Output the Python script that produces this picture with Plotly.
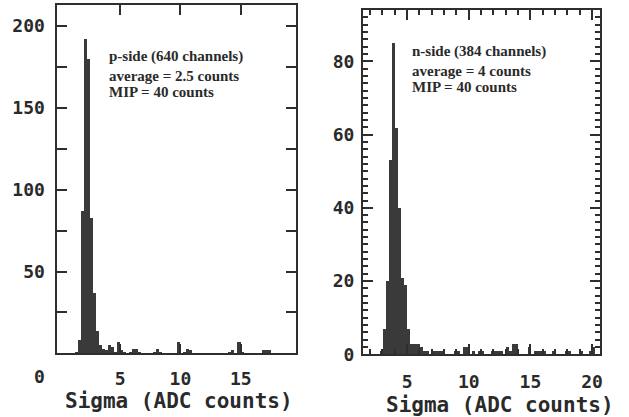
import plotly.graph_objects as go

# ---------------- data ----------------
BIN = 0.25
# p-side histogram: lower bin edges (Sigma, ADC counts) and entries
p_edges = [1.25, 1.5, 1.75, 2.0, 2.25, 2.5, 2.75, 3.0, 3.25, 3.5, 3.75, 4.0, 4.25,
           4.5, 4.75, 5.0, 5.25, 5.75, 6.0, 6.25, 6.5, 7.75, 8.0, 8.25, 9.75,
           10.25, 10.5, 10.75, 14.0, 14.25, 14.75, 15.0, 16.75, 17.0, 17.25]
p_counts = [1, 8, 87, 192, 180, 83, 37, 14, 5, 3, 2, 5, 4,
            1, 7, 2, 1, 1, 3, 3, 1, 1, 3, 1, 7,
            1, 3, 2, 1, 2, 7, 1, 2, 2, 2]

# n-side histogram
n_edges = [2.75, 3.0, 3.25, 3.5, 3.75, 4.0, 4.25, 4.5, 4.75, 5.0, 5.25, 5.5, 5.75,
           6.0, 6.25, 6.5, 7.0, 7.25, 7.5, 7.75, 8.75, 9.0, 9.5, 9.75, 10.25,
           10.75, 11.0, 11.75, 12.0, 12.25, 12.5, 13.0, 13.25, 13.5, 13.75,
           14.75, 15.25, 15.5, 15.75, 16.0, 16.75, 17.75, 18.0, 19.0, 19.75, 20.0]
n_counts = [1, 7, 20, 53, 85, 62, 40, 21, 19, 7, 3, 3, 3,
            2, 1, 1, 1, 1, 1, 1, 1, 1, 2, 2, 1,
            1, 1, 1, 1, 1, 1, 2, 1, 3, 3,
            2, 1, 1, 1, 1, 1, 1, 1, 1, 1, 2]

p_xticks = [5, 10, 15]
p_yticks = [50, 100, 150, 200]
n_xticks = [5, 10, 15, 20]
n_yticks = [0, 20, 40, 60, 80]

p_text = ["p-side (640 channels)", "average = 2.5 counts", "MIP = 40 counts"]
n_text = ["n-side (384 channels)", "average = 4 counts", "MIP = 40 counts"]
x_title = "Sigma (ADC counts)"

# ---------------- figure ----------------
W, H = 629, 417
BAR = "#3a3a3a"
LINE = "#2e2e2e"
TICKFONT = dict(family="DejaVu Sans Mono", size=18, color="#2a2a2a", weight=700)
TEXTFONT = dict(family="Liberation Serif", size=15, color="#2a2a2a", weight=700)
TITLEFONT = dict(family="DejaVu Sans Mono", size=21, color="#2a2a2a", weight=700)

fig = go.Figure()
fig.add_trace(go.Bar(x=p_edges, y=p_counts, width=BIN, offset=0,
                     marker=dict(color=BAR, line=dict(width=0)),
                     xaxis="x", yaxis="y", showlegend=False))
fig.add_trace(go.Bar(x=n_edges, y=n_counts, width=BIN, offset=0,
                     marker=dict(color=BAR, line=dict(width=0)),
                     xaxis="x2", yaxis="y2", showlegend=False))

def px_x(v):
    return v / W

def px_y(v):
    return 1 - v / H

common = dict(showline=True, linecolor=LINE, linewidth=1.6, mirror="allticks",
              ticks="inside", tickcolor=LINE, tickwidth=1.5, showgrid=False,
              zeroline=False, tickfont=TICKFONT, fixedrange=True)

fig.update_layout(
    width=W, height=H, margin=dict(l=0, r=0, t=0, b=0),
    paper_bgcolor="white", plot_bgcolor="white", bargap=0,
    xaxis=dict(domain=[px_x(57.5), px_x(297)], range=[-0.22, 19.55], anchor="y",
               tickvals=p_xticks, ticklen=10, ticklabelstandoff=8, **common),
    yaxis=dict(domain=[px_y(362), px_y(5)], range=[0, 213], anchor="x",
               tickvals=p_yticks, ticklen=10, ticklabelstandoff=7,
               minor=dict(tickvals=[25, 75, 125, 175], ticklen=10, ticks="inside",
                          tickcolor=LINE, tickwidth=1.5),
               **common),
    xaxis2=dict(domain=[px_x(364.5), px_x(603)], range=[1.4, 20.65], anchor="y2",
                tickvals=n_xticks, ticklen=10, ticklabelstandoff=10,
                minor=dict(dtick=1, ticklen=5, ticks="inside", tickcolor=LINE,
                           tickwidth=1.5),
                **common),
    yaxis2=dict(domain=[px_y(363), px_y(10)], range=[0, 94.1], anchor="x2",
                tickvals=n_yticks, ticklen=10, ticklabelstandoff=3,
                minor=dict(dtick=2, ticklen=5, ticks="inside", tickcolor=LINE,
                           tickwidth=1.5),
                **common),
)

ann = []
for txt, yy in zip(p_text, [58, 78, 94]):
    ann.append(dict(text="<b>" + txt + "</b>", x=px_x(108), y=px_y(yy),
                    xref="paper", yref="paper", xanchor="left", yanchor="middle",
                    showarrow=False, font=TEXTFONT))
for txt, yy in zip(n_text, [53, 73, 89]):
    ann.append(dict(text="<b>" + txt + "</b>", x=px_x(412), y=px_y(yy),
                    xref="paper", yref="paper", xanchor="left", yanchor="middle",
                    showarrow=False, font=TEXTFONT))
ann.append(dict(text="<b>" + x_title + "</b>", x=px_x(180), y=px_y(411),
                xref="paper", yref="paper", xanchor="center", yanchor="middle",
                showarrow=False, font=TITLEFONT))
ann.append(dict(text="<b>" + x_title + "</b>", x=px_x(502), y=px_y(415),
                xref="paper", yref="paper", xanchor="center", yanchor="middle",
                showarrow=False, font=TITLEFONT))
ann.append(dict(text="<b>0</b>", x=px_x(40), y=px_y(386), xref="paper", yref="paper",
                xanchor="center", yanchor="middle", showarrow=False, font=TICKFONT))
fig.update_layout(annotations=ann)

fig.write_html("out.html", config={"displayModeBar": False},
               post_script="document.body.style.margin='0';document.body.style.padding='0';")
